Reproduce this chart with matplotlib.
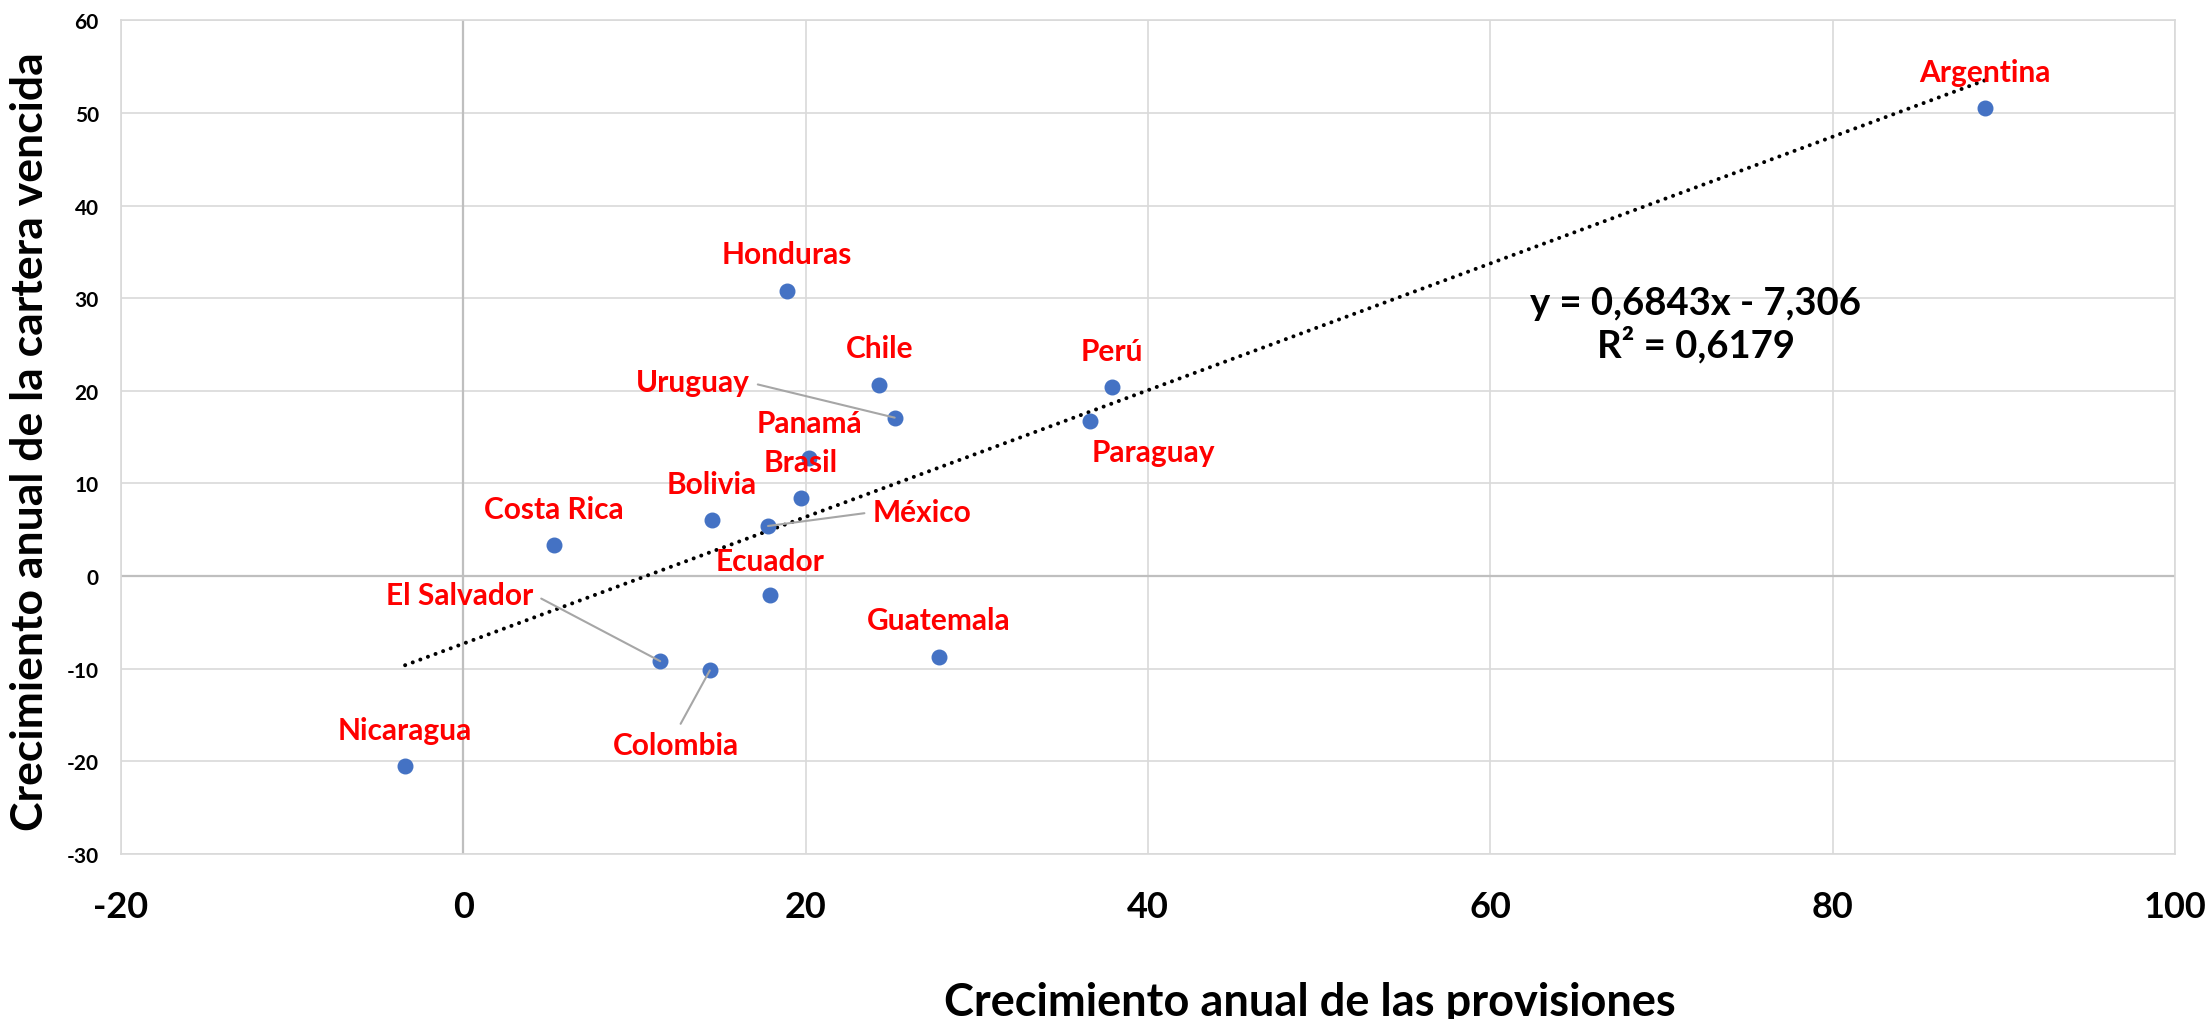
import matplotlib
matplotlib.use("Agg")
import matplotlib.pyplot as plt
import numpy as np

# data
countries = ['Argentina', 'Honduras', 'Chile', 'Perú', 'Paraguay', 'Uruguay',
             'Panamá', 'Brasil', 'Bolivia', 'México', 'Costa Rica', 'Ecuador',
             'El Salvador', 'Colombia', 'Guatemala', 'Nicaragua']
provisiones = [88.9, 18.9, 24.3, 37.9, 36.6, 25.2,
               20.2, 19.7, 14.5, 17.8, 5.3, 17.9,
               11.5, 14.4, 27.8, -3.4]
cartera = [50.5, 30.8, 20.6, 20.4, 16.7, 17.1,
           12.7, 8.4, 6.0, 5.4, 3.3, -2.1,
           -9.2, -10.2, -8.8, -20.5]

slope = 0.6843
intercept = -7.306
r2 = 0.6179

xticks = [-20, 0, 20, 40, 60, 80, 100]
yticks = [-30, -20, -10, 0, 10, 20, 30, 40, 50, 60]

# label placement (offset from the point, data units) and leader-line anchor
label_offset = {
    'Argentina': (0, 3.9), 'Honduras': (0, 4.0), 'Chile': (0, 4.0),
    'Perú': (0, 3.9), 'Paraguay': (3.7, -3.3), 'Uruguay': (-11.8, 3.8),
    'Panamá': (0, 3.8), 'Brasil': (0, 3.95), 'Bolivia': (0, 3.9),
    'México': (9.0, 1.5), 'Costa Rica': (0, 3.9), 'Ecuador': (0, 3.75),
    'El Salvador': (-11.7, 7.2), 'Colombia': (-1.95, -8.1),
    'Guatemala': (0, 4.05), 'Nicaragua': (0, 3.9),
}
leaders = {'Uruguay': (1, 0.5), 'México': (0, 0.5),
           'El Salvador': (1, 0.5), 'Colombia': (0.5, 1)}

FONT = ['Lato', 'DejaVu Sans']
plt.rcParams['font.family'] = FONT
plt.rcParams['axes.unicode_minus'] = False

fig = plt.figure(figsize=(22.12, 10.2), dpi=100)
ax = fig.add_axes([121 / 2212, 1 - 854.8 / 1020, 2054 / 2212, 833.4 / 1020])

ax.set_xlim(-20, 100)
ax.set_ylim(-30, 60)
ax.set_xticks(xticks)
ax.set_yticks(yticks)
ax.grid(True, color='#d9d9d9', lw=1.2, zorder=0)
ax.set_axisbelow(True)
for sp in ax.spines.values():
    sp.set_color('#d9d9d9')
    sp.set_linewidth(1.2)
ax.axhline(0, color='#bfbfbf', lw=1.6, zorder=1)
ax.axvline(0, color='#bfbfbf', lw=1.6, zorder=1)

ax.tick_params(axis='x', length=0, pad=26, labelsize=26)
ax.tick_params(axis='y', length=0, pad=16, labelsize=15)
for lab in ax.get_xticklabels() + ax.get_yticklabels():
    lab.set_fontweight('bold')

# trend line
xs = np.array([min(provisiones), max(provisiones)])
ax.plot(xs, slope * xs + intercept, color='black', lw=2.9,
        linestyle=(0, (0.01, 2.0)), dash_capstyle='round', zorder=2)

ax.scatter(provisiones, cartera, s=110, color='#4472C4', zorder=3)

for name, x, y in zip(countries, provisiones, cartera):
    dx, dy = label_offset[name]
    kw = {}
    if name in leaders:
        kw['arrowprops'] = dict(arrowstyle='-', color='#a6a6a6', lw=1.5,
                                relpos=leaders[name], shrinkA=4, shrinkB=0)
    ax.annotate(name, (x, y), xytext=(x + dx, y + dy), textcoords='data',
                ha='center', va='center', color='#ff0000', fontsize=21.5,
                fontweight='bold', zorder=4, **kw)

eq = 'y = {:.4f}x - {:.3f}'.format(slope, -intercept).replace('.', ',')
ax.text(72, 27.2, eq + '\nR² = {:.4f}'.format(r2).replace('.', ','),
        ha='center', va='center', fontsize=27.5, fontweight='bold',
        linespacing=1.15, zorder=4)

fig.text(10 / 2212, 0.567, 'Crecimiento anual de la cartera vencida',
         rotation=90, ha='left', va='center', fontsize=32, fontweight='bold')
fig.text(1310 / 2212, 4 / 1020, 'Crecimiento anual de las provisiones',
         ha='center', va='baseline', fontsize=32.5, fontweight='bold')

fig.savefig('out.png', dpi=100)
